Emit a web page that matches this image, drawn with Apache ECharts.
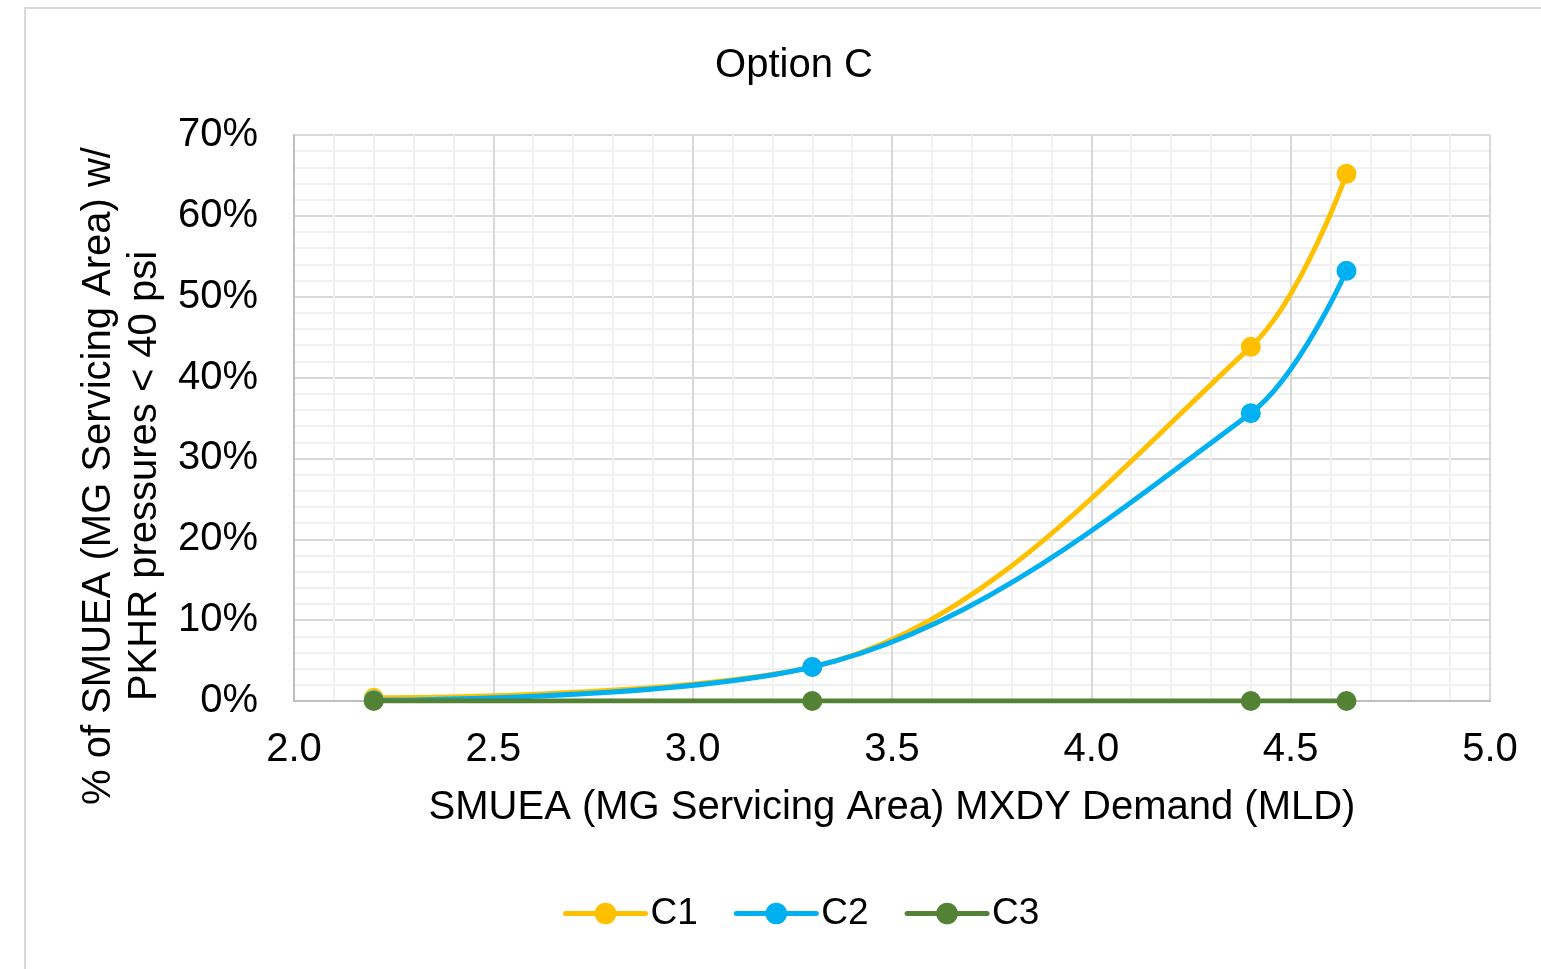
<!DOCTYPE html>
<html>
<head>
<meta charset="utf-8">
<title>Option C</title>
<script src="https://cdn.jsdelivr.net/npm/echarts@6/dist/echarts.min.js"></script>
<style>
  html, body { margin: 0; padding: 0; background: #fff; }
  #chart { width: 1541px; height: 969px; }
</style>
</head>
<body>
<div id="chart"></div>
<script>
// demand values (MLD) on the x axis
const demand = [2.2, 3.3, 4.4, 4.64]
// % of area with PKHR pressures < 40 psi
const c1 = [0.4, 4.2, 43.8, 65.2]
const c2 = [0.1, 4.2, 35.6, 53.2]
const c3 = [0, 0, 0, 0]

const seriesNames = ['C1', 'C2', 'C3']
const seriesColors = ['#FFC000', '#00B0F0', '#548235']

const font = 'Liberation Sans, Arial, sans-serif'

const chart = echarts.init(document.getElementById('chart'))

const makeSeries = (name, values, color, z) => ({
  name: name,
  type: 'line',
  smooth: 0.35,
  data: demand.map((x, i) => [x, values[i]]),
  symbol: 'circle',
  symbolSize: 20,
  z: z,
  lineStyle: { color: color, width: 5 },
  itemStyle: { color: color }
})

const option = {
  animation: false,
  textStyle: { fontFamily: font },
  title: {
    text: 'Option C',
    left: 789,
    top: 41,
    textAlign: 'center',
    textStyle: { fontFamily: font, fontSize: 40, fontWeight: 'normal', color: '#000' }
  },
  legend: {
    data: seriesNames,
    left: 558,
    top: 890,
    itemWidth: 80,
    itemHeight: 27,
    itemGap: 36,
    lineStyle: { width: 5, cap: 'round' },
    textStyle: { fontFamily: font, fontSize: 37, color: '#000' }
  },
  graphic: [
    {
      type: 'rect',
      shape: { x: 25, y: 8, width: 1600, height: 1000 },
      style: { fill: 'none', stroke: '#d9d9d9', lineWidth: 2 },
      silent: true
    },
    {
      type: 'text',
      x: 122,
      y: 476,
      rotation: Math.PI / 2,
      style: {
        text: '% of SMUEA (MG Servicing Area) w/\nPKHR pressures < 40 psi',
        font: '40px ' + font,
        fill: '#000',
        align: 'center',
        verticalAlign: 'middle',
        lineHeight: 46
      }
    }
  ],
  grid: {
    left: 294,
    right: 51,
    top: 135,
    bottom: 268,
    outerBoundsMode: 'none'
  },
  xAxis: {
    type: 'value',
    min: 2,
    max: 5,
    interval: 0.5,
    name: 'SMUEA (MG Servicing Area) MXDY Demand (MLD)',
    nameLocation: 'middle',
    nameGap: 87,
    nameTextStyle: { fontFamily: font, fontSize: 40, color: '#000' },
    axisLine: { onZero: false, lineStyle: { color: '#bfbfbf', width: 2 } },
    axisTick: { show: false },
    axisLabel: {
      margin: 29,
      fontSize: 40,
      color: '#000',
      formatter: v => v.toFixed(1)
    },
    splitLine: { show: true, lineStyle: { color: '#d9d9d9', width: 2 } },
    minorTick: { show: false, splitNumber: 5 },
    minorSplitLine: { show: true, lineStyle: { color: '#f0f0f0', width: 2 } }
  },
  yAxis: {
    type: 'value',
    min: 0,
    max: 70,
    interval: 10,
    axisLine: { show: true, lineStyle: { color: '#bfbfbf', width: 2 } },
    axisTick: { show: false },
    axisLabel: {
      margin: 36,
      fontSize: 40,
      color: '#000',
      formatter: '{value}%'
    },
    splitLine: { show: true, lineStyle: { color: '#d9d9d9', width: 2 } },
    minorTick: { show: false, splitNumber: 5 },
    minorSplitLine: { show: true, lineStyle: { color: '#f0f0f0', width: 2 } }
  },
  series: [
    makeSeries(seriesNames[0], c1, seriesColors[0], 2),
    makeSeries(seriesNames[1], c2, seriesColors[1], 3),
    makeSeries(seriesNames[2], c3, seriesColors[2], 4)
  ]
}

chart.setOption(option)
</script>
</body>
</html>
